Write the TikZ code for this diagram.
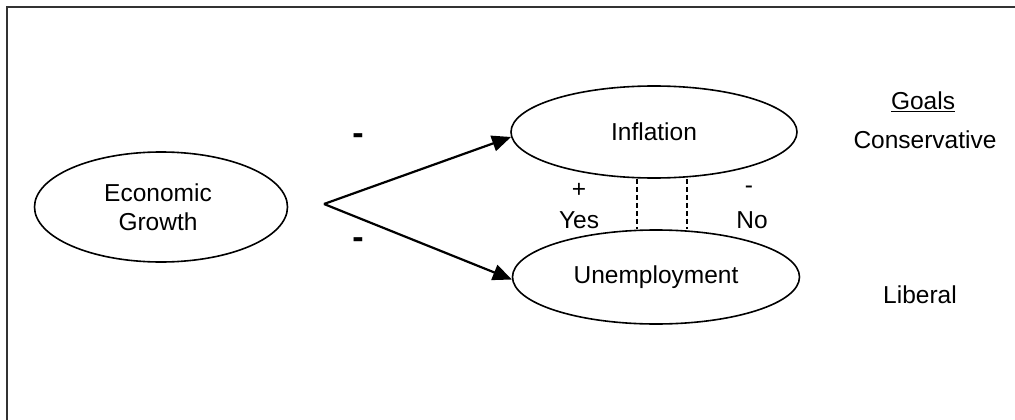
\documentclass[tikz,border=0pt]{standalone}
\usepackage{fontspec}
\setmainfont{Liberation Sans}
\usetikzlibrary{shapes.geometric,arrows.meta,calc}
\begin{document}
\begin{tikzpicture}[x=1pt,y=-1pt,
  oval/.style={draw,ellipse,line width=1.6pt,inner sep=0pt},
  lbl/.style={font=\fontsize{24.5}{29}\selectfont,inner sep=0pt},
  link/.style={line width=2.2pt,-{Triangle[length=19pt,width=16pt]}},
  tie/.style={line width=1.4pt,dash pattern=on 5pt off 3pt},
  sign/.style={font=\fontsize{34}{34}\selectfont\bfseries,inner sep=0pt}]
  \useasboundingbox (0,0) rectangle (1015,420);
  % frame (top and left edges)
  \draw[line width=2pt,black!80] (1015,7) -- (7,7) -- (7,420);

  % nodes
  \node[oval,minimum width=253pt,minimum height=110pt] (growth) at (161,207) {};
  \node[lbl,align=center] (growthtxt) at (158,207) {Economic\\Growth};
  \node[oval,minimum width=286pt,minimum height=92pt] (infl) at (654,132) {};
  \node[lbl] (infltxt) at (654,132) {Inflation};
  \node[oval,minimum width=287pt,minimum height=94pt] (unemp) at (656,277) {};
  \node[lbl] (unemptxt) at (656,277) {Unemployment};

  % arrows from the branching point
  \coordinate (fork) at (324,204);
  \draw[link] (fork) -- (infl.182.4);
  \draw[link] (fork) -- (unemp.181.6);
  \node[sign] (minusA) at (358,139) {-};
  \node[sign] (minusB) at (358,243) {-};

  % trade-off link between the two goals
  \draw[tie] (infl.south -| 637,0) -- (unemp.north -| 637,0);
  \draw[tie] (infl.south -| 687,0) -- (unemp.north -| 687,0);
  \node[lbl] (plus) at (579,190) {+};
  \node[lbl] (yes) at (579,220) {Yes};
  \node[lbl] (minusC) at (749,190) {-};
  \node[lbl] (no) at (752,220) {No};

  % goals column
  \node[lbl] (goals) at (923,102) {\underline{Goals}};
  \node[lbl] (cons) at (925,140) {Conservative};
  \node[lbl] (lib) at (920,295) {Liberal};
\end{tikzpicture}
\end{document}
